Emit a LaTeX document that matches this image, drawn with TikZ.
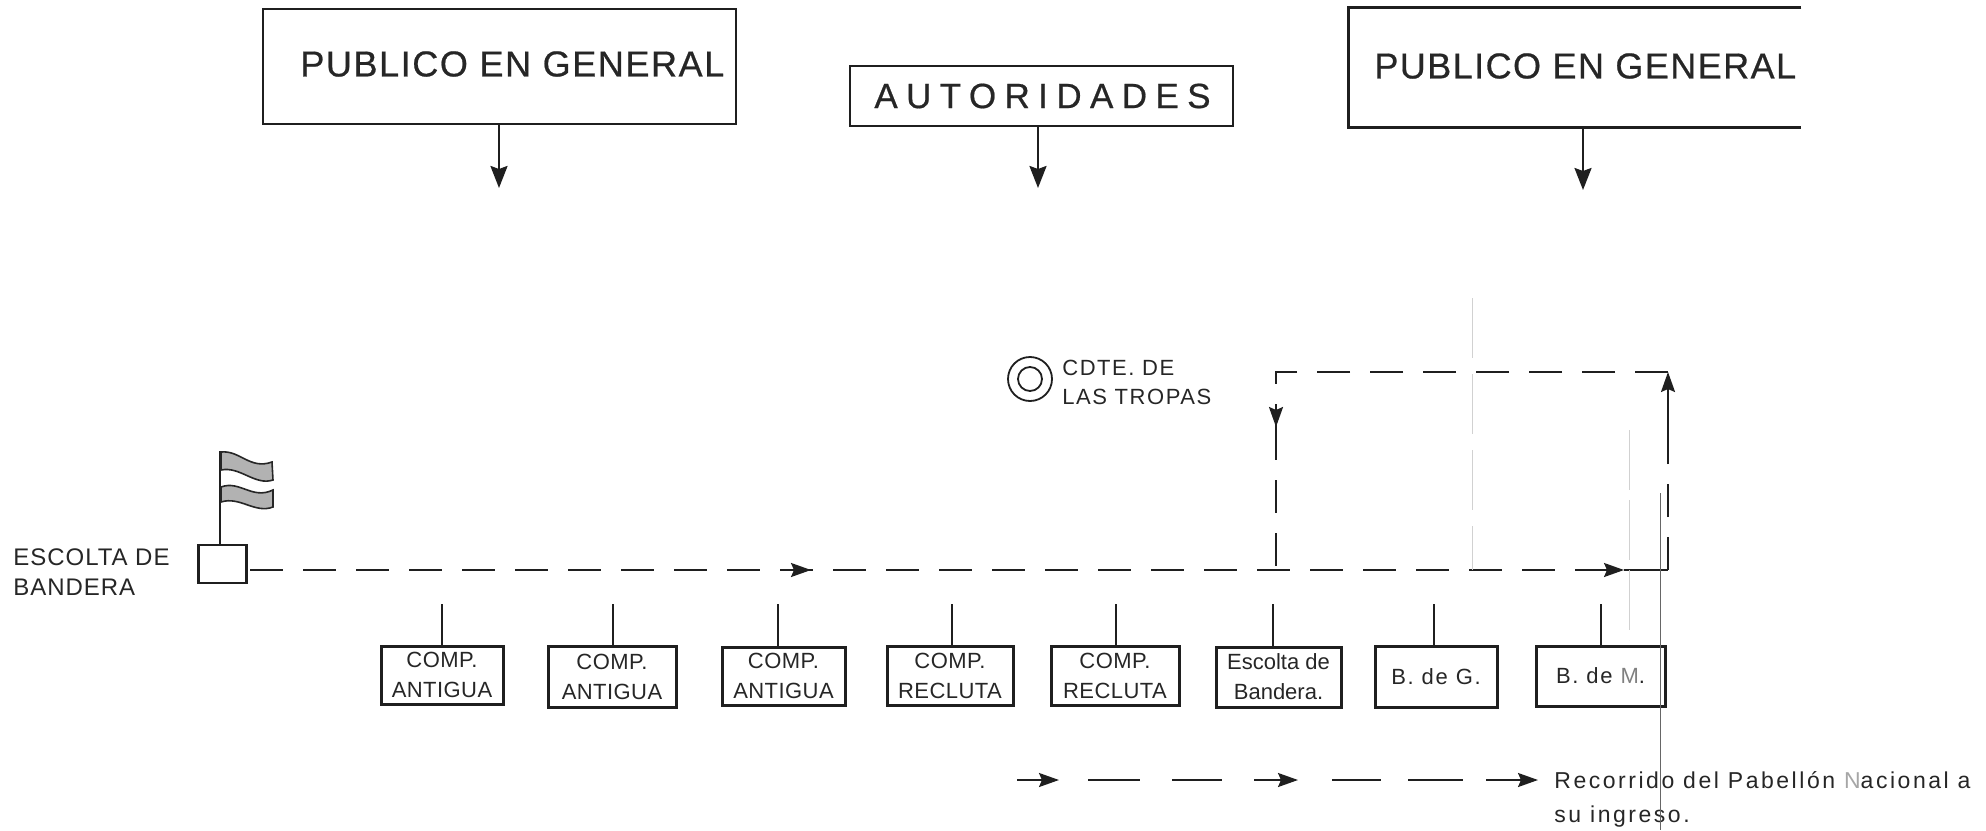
\documentclass[tikz,border=0pt]{standalone}
\usepackage{fontspec}
\setmainfont{Liberation Sans}
\usetikzlibrary{arrows.meta,calc}
\newcommand{\lab}[3]{\fontsize{#1}{#2}\selectfont\addfontfeatures{LetterSpace=#3}}
\newcommand{\titlefont}[2]{\fontsize{#1}{#1}\selectfont\addfontfeatures{LetterSpace=#2,FakeBold=0.6}}
\tikzset{
  x=0.5pt,y=-0.5pt,
  bigbox/.style={draw=black!88,line width=1.4pt,inner sep=0pt,text=black!85},
  openbox/.style={inner sep=0pt,text=black!85},
  unit/.style={draw=black!88,line width=1.5pt,inner sep=0pt,align=center,text=black!85,font=\lab{11}{15}{2}},
  stem/.style={draw=black!88,line width=1.2pt},
  downarrow/.style={draw=black!88,line width=1.2pt,-{Stealth[length=11pt,width=8.5pt,inset=1.5pt]}},
  route/.style={draw=black!88,line width=1pt,dash pattern=on 16.5pt off 10pt},
  solidroute/.style={draw=black!88,line width=1pt},
  tip/.style={draw=black!88,line width=1pt,-{Stealth[length=10pt,width=7pt,inset=1.5pt]}},
  plain/.style={inner sep=0pt,anchor=west,align=left,text=black!85},
  faint/.style={draw=black!18,line width=0.3pt},
  fold/.style={draw=black!60,line width=0.4pt},
  flagband/.style={draw=black!85,line width=0.8pt,fill=black!30},
}
\begin{document}
\begin{tikzpicture}
\useasboundingbox (0,0) rectangle (1986,830);
% top blocks
\node[bigbox,minimum width=236.5pt,minimum height=57.5pt] (pub1) at (499.5,66.5) {};
\node[openbox,anchor=west] (pub1t) at (300,64) {\titlefont{18}{4.4}PUBLICO EN GENERAL};
\node[bigbox,minimum width=191.5pt,minimum height=30pt] (aut) at (1041.5,96) {};
\node[openbox,anchor=west] (autt) at (874,96) {\titlefont{17.5}{24}AUTORIDADES};
\node[openbox,minimum width=226pt,minimum height=59.5pt] (pub2) at (1575,67.5) {};
\node[openbox,anchor=west] (pub2t) at (1374,66) {\titlefont{18}{4}PUBLICO EN GENERAL};
\draw[line width=1.4pt,draw=black!88] (pub2.north east) -- (pub2.north west) -- (pub2.south west) -- (pub2.south east);
\coordinate (a1) at (499,188);
\coordinate (a2) at (1038,188);
\coordinate (a3) at (1583,190);
\draw[downarrow] (a1 |- pub1.south) -- (a1);
\draw[downarrow] (a2 |- aut.south) -- (a2);
\draw[downarrow] (a3 |- pub2.south) -- (a3);
% commander
\node[circle,draw=black!88,line width=0.9pt,minimum size=22pt,inner sep=0pt] (cdte) at (1030,379) {};
\node[circle,draw=black!88,line width=0.9pt,minimum size=12pt,inner sep=0pt] (cdtei) at (1030,379) {};
\node[plain,font=\lab{11}{14.5}{7}] (cdtet) at (1062,382) {CDTE. DE\\LAS TROPAS};
% flag and escort
\node[draw=black!88,line width=1.4pt,minimum width=24pt,minimum height=19pt,inner sep=0pt] (esc) at (222.5,564) {};
\coordinate (pole) at (220,451);
\draw[line width=1.4pt,draw=black!88] (esc.north -| pole) -- (pole);
\path[flagband] (221,452) .. controls (240,450) and (250,470) .. (272,462) -- (273,480) .. controls (255,486) and (240,466) .. (221,470) -- cycle;
\path[flagband] (221,487) .. controls (240,480) and (252,500) .. (273,490) -- (273,507) .. controls (255,514) and (240,496) .. (221,502) -- cycle;
\node[plain,font=\lab{12}{15}{4}] (esct) at (13,572) {ESCOLTA DE\\BANDERA};
% units
\node[unit,minimum width=61pt,minimum height=29pt] (c1) at (442,675) {COMP.\\ANTIGUA};
\node[unit,minimum width=64pt,minimum height=30.5pt] (c2) at (612,676.5) {COMP.\\ANTIGUA};
\node[unit,minimum width=61.5pt,minimum height=29pt] (c3) at (783.5,676) {COMP.\\ANTIGUA};
\node[unit,minimum width=63pt,minimum height=29.5pt] (c4) at (950,676) {COMP.\\RECLUTA};
\node[unit,minimum width=64pt,minimum height=29.5pt] (c5) at (1115,676) {COMP.\\RECLUTA};
\node[unit,minimum width=62.5pt,minimum height=30pt,font=\lab{11}{15}{0}] (c6) at (1278.5,677) {Escolta de\\Bandera.};
\node[unit,minimum width=61pt,minimum height=30.5pt,font=\lab{11}{15}{8}] (c7) at (1436,676.5) {B. de G.};
\node[unit,minimum width=64.5pt,minimum height=30pt,font=\lab{11}{15}{8}] (c8) at (1600.5,676) {B. de \textcolor{black!50}{M}.};
\foreach \n/\x in {1/442,2/613,3/778,4/952,5/1116,6/1273,7/1434,8/1601}{
  \coordinate (s\n) at (\x,604);
  \draw[stem] (s\n) -- (s\n |- c\n.north);
}
% route
\coordinate (r0) at (250,570);
\coordinate (rm) at (811,570);
\coordinate (r1) at (1624,570);
\coordinate (r2) at (1668,570);
\coordinate (r3) at (1668,372);
\coordinate (r4) at (1276,372);
\coordinate (r5) at (1276,427);
\coordinate (r6) at (1276,570);
\draw[route] (r0) -- (r1);
\draw[tip] ($(r1)+(-22,0)$) -- (r1);
\draw[tip] ($(rm)+(-22,0)$) -- (rm);
\draw[solidroute] (r1) -- (r2);
\draw[route] (r2) -- (r3);
\draw[tip] ($(r3)+(0,60)$) -- (r3);
\draw[route] (r3) -- (r4) -- (r5);
\draw[tip] ($(r5)+(0,-20)$) -- (r5);
\draw[route] (r5) -- (r6);
% legend
\coordinate (l0) at (1017,780);
\coordinate (l1) at (1059,780);
\coordinate (l2) at (1088,780);
\coordinate (l3) at (1140,780);
\coordinate (l4) at (1172,780);
\coordinate (l5) at (1222,780);
\coordinate (l6) at (1254,780);
\coordinate (l7) at (1298,780);
\coordinate (l8) at (1332,780);
\coordinate (l9) at (1381,780);
\coordinate (l10) at (1408,780);
\coordinate (l11) at (1463,780);
\coordinate (l12) at (1486,780);
\coordinate (l13) at (1538,780);
\draw[tip] (l0) -- (l1);
\draw[solidroute] (l2) -- (l3);
\draw[solidroute] (l4) -- (l5);
\draw[tip] (l6) -- (l7);
\draw[solidroute] (l8) -- (l9);
\draw[solidroute] (l10) -- (l11);
\draw[tip] (l12) -- (l13);
\node[plain] (leg1) at (1554,780) {\lab{11.5}{14}{11}Recorrido del Pabellón \textcolor{black!35}{N}acional a};
\node[plain] (leg2) at (1554,817) {\lab{11.5}{14}{11}su ingreso.};
% scan fold lines
\coordinate (f1) at (1660,493);
\coordinate (f2) at (1660,830);
\draw[fold] (f1) -- (f2);
\coordinate (f3) at (1472,298);
\coordinate (f4) at (1472,570);
\draw[faint,dash pattern=on 30pt off 8pt] (f3) -- (f4);
\coordinate (f5) at (1629,430);
\coordinate (f6) at (1629,640);
\draw[faint,dash pattern=on 30pt off 5pt] (f5) -- (f6);
\end{tikzpicture}
\end{document}
